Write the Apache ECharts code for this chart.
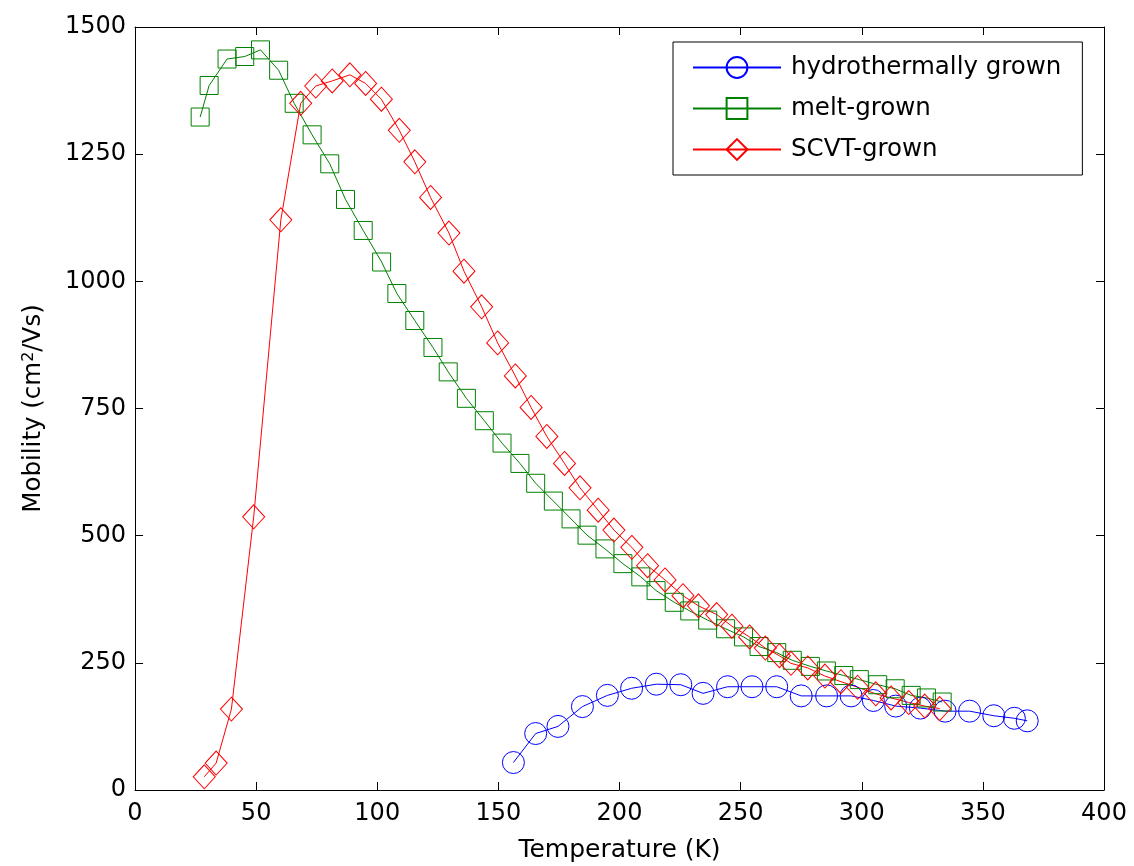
<!DOCTYPE html>
<html>
<head>
<meta charset="utf-8">
<script src="https://cdn.jsdelivr.net/npm/echarts@6/dist/echarts.min.js"></script>
<style>
html,body{margin:0;padding:0;background:#fff;}
#chart{width:1134px;height:866px;}
</style>
</head>
<body>
<div id="chart"></div>
<script>
const seriesNames = ['hydrothermally grown', 'melt-grown', 'SCVT-grown'];
const xTicks = [0, 50, 100, 150, 200, 250, 300, 350, 400];
const yTicks = [0, 250, 500, 750, 1000, 1250, 1500];

const hydroT = [156.2,165.4,174.6,184.7,195,205,215.2,225.3,234.5,244.6,254.7,264.9,275,285.5,295.6,304.8,314,324.2,334.4,344.5,354.5,363,368.3];
const hydroMu = [54,111,125,164,186,200,208,207,190,203,203,203,185,185,185,176,165,161,155,155,146,141,136];

const meltT = [26.9,30.6,38,45.3,51.8,59.3,65.7,73.1,80.4,86.9,94.2,101.8,108.1,115.5,123,129.3,136.8,144.2,151.5,158.9,165.4,172.7,180,186.6,194,201.4,208.8,215.1,222.6,229,236.4,243.8,251.2,257.6,264.9,271.3,278.8,285.4,292.6,299,306.6,313.8,320.4,326.7,333.2];
const meltMu = [1323,1385,1437,1442,1455,1415,1350,1288,1231,1161,1100,1038,976,923,870,822,770,726,682,642,603,568,533,501,474,445,419,392,369,352,334,317,301,282,270,255,243,234,225,217,207,199,186,181,173];

const scvtT = [28.6,33.5,39.8,49,60.2,68.4,74.6,81.4,88.7,95.2,101.7,109.1,115.5,122,129.6,135.8,143.1,149.7,157,163.5,170,177.3,183.7,191.2,197.7,205.1,211.6,218.8,226.2,232.6,240.1,246.4,253.7,260.2,266,270.8,277.7,284.8,291.4,298.3,305.8,312.1,319.4,326,332.2];
const scvtMu = [26,53,159,537,1121,1350,1384,1394,1406,1389,1358,1297,1235,1165,1095,1020,950,879,814,752,695,642,594,550,511,477,441,413,382,362,345,322,301,279,264,249,240,224,213,202,189,181,172,165,160];

const zip = (a, b) => a.map((v, i) => [v, b[i]]);
const FONT = '"DejaVu Sans", "Liberation Sans", Arial, sans-serif';

const xMin = xTicks[0], xMax = xTicks[xTicks.length - 1], xStep = xTicks[1] - xTicks[0];
const yMin = yTicks[0], yMax = yTicks[yTicks.length - 1], yStep = yTicks[1] - yTicks[0];

function mkSeries(name, data, color, symbol, size) {
  return {
    name: name,
    type: 'line',
    data: data,
    symbol: symbol,
    symbolSize: size,
    showAllSymbol: true,
    lineStyle: { color: color, width: 1 },
    itemStyle: { color: 'rgba(0,0,0,0)', borderColor: color, borderWidth: 1 },
    emphasis: { disabled: true },
    animation: false
  };
}

const chart = echarts.init(document.getElementById('chart'), null, { renderer: 'canvas' });
const commonTick = { show: true, inside: true, length: 8, lineStyle: { color: '#000', width: 1 } };
const plain = v => String(v);
chart.setOption({
  animation: false,
  backgroundColor: '#fff',
  textStyle: { fontFamily: FONT },
  grid: { left: 135, right: 30, top: 27, bottom: 76, containLabel: false, outerBoundsMode: 'none' },
  legend: {
    orient: 'vertical',
    left: 673,
    top: 42,
    data: seriesNames,
    backgroundColor: '#fff',
    borderColor: '#000',
    borderWidth: 1,
    borderRadius: 0,
    padding: [13, 21, 13, 19],
    itemWidth: 88,
    itemHeight: 26,
    itemGap: 16,
    textStyle: { fontSize: 24.5, color: '#000', fontFamily: FONT, padding: [0, 0, 0, 5] }
  },
  xAxis: [{
    type: 'value', min: xMin, max: xMax, interval: xStep,
    name: 'Temperature (K)', nameLocation: 'middle', nameGap: 48,
    nameTextStyle: { fontSize: 25, color: '#000', fontFamily: FONT },
    axisLine: { show: true, onZero: false, lineStyle: { color: '#000', width: 1 } },
    axisTick: commonTick,
    axisLabel: { fontSize: 24, color: '#000', margin: 12, fontFamily: FONT, formatter: plain },
    splitLine: { show: false }
  }, {
    type: 'value', min: xMin, max: xMax, interval: xStep, position: 'top',
    axisLine: { show: true, onZero: false, lineStyle: { color: '#000', width: 1 } },
    axisTick: commonTick, axisLabel: { show: false }, splitLine: { show: false }
  }],
  yAxis: [{
    type: 'value', min: yMin, max: yMax, interval: yStep,
    name: 'Mobility (cm{sup|2}/Vs)', nameLocation: 'middle', nameGap: 88, nameRotate: 90,
    nameTextStyle: { fontSize: 24.5, color: '#000', fontFamily: FONT,
      rich: { sup: { fontSize: 16, verticalAlign: 'top', padding: [0, 0, 10, 0], fontFamily: FONT, color: '#000' } } },
    axisLine: { show: true, onZero: false, lineStyle: { color: '#000', width: 1 } },
    axisTick: commonTick,
    axisLabel: { fontSize: 24, color: '#000', margin: 9, fontFamily: FONT, formatter: plain },
    splitLine: { show: false }
  }, {
    type: 'value', min: yMin, max: yMax, interval: yStep, position: 'right',
    axisLine: { show: true, onZero: false, lineStyle: { color: '#000', width: 1 } },
    axisTick: commonTick, axisLabel: { show: false }, splitLine: { show: false }
  }],
  series: [
    mkSeries(seriesNames[0], zip(hydroT, hydroMu), '#0000ff', 'circle', 22),
    mkSeries(seriesNames[1], zip(meltT, meltMu), '#008000', 'rect', 18),
    mkSeries(seriesNames[2], zip(scvtT, scvtMu), '#ff0000', 'diamond', [22, 24])
  ]
});
</script>
</body>
</html>
